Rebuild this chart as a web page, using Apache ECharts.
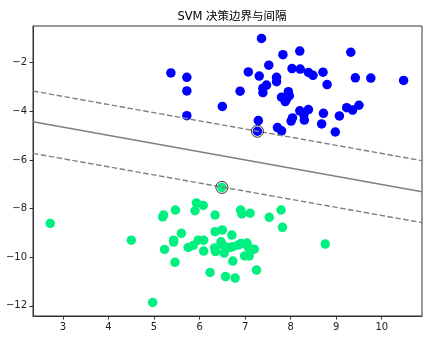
<!DOCTYPE html>
<html>
<head>
<meta charset="utf-8">
<script src="https://cdn.jsdelivr.net/npm/echarts@6/dist/echarts.min.js"></script>
<style>html,body{margin:0;padding:0;background:#fff}#c{width:442px;height:341px}</style>
</head>
<body>
<div id="c"></div>
<script>
const titleText = "SVM 决策边界与间隔";
const xTicks = [3, 4, 5, 6, 7, 8, 9, 10];
const yTicks = [-12, -10, -8, -6, -4, -2];
const xRange = [2.342, 10.884];
const yRange = [-12.42, -0.49];

const class0 = [
  [5.37,-2.42],[5.72,-2.60],[5.72,-3.16],[5.72,-4.18],[6.50,-3.80],[6.89,-3.17],
  [7.07,-2.38],[7.31,-2.55],[7.52,-2.10],[7.36,-1.00],[7.83,-1.67],[8.20,-1.52],
  [8.03,-2.24],[8.21,-2.26],[8.39,-2.40],[8.49,-2.52],[8.71,-2.39],[8.80,-2.90],
  [7.69,-2.60],[7.69,-2.78],[7.47,-2.92],[7.39,-3.05],[7.39,-3.23],[7.80,-3.42],
  [7.88,-3.60],[7.95,-3.19],[7.97,-3.36],[7.91,-3.50],[8.20,-3.98],[8.39,-3.93],
  [8.29,-4.15],[8.30,-4.36],[8.04,-4.27],[8.01,-4.40],[8.72,-4.08],[8.68,-4.52],
  [9.07,-4.19],[8.98,-4.85],[9.23,-3.85],[9.36,-3.95],[9.50,-3.75],[9.32,-1.57],
  [9.42,-2.62],[9.76,-2.63],[10.48,-2.73],[7.29,-4.38],[7.27,-4.82],[7.71,-4.67],
  [7.80,-4.80]
];
const class1 = [
  [2.72,-8.61],[4.50,-9.30],[4.97,-11.86],[5.19,-8.34],[5.21,-8.27],[5.47,-8.06],
  [5.23,-9.68],[5.43,-9.30],[5.43,-9.38],[5.46,-10.21],[5.60,-9.02],[5.75,-9.60],
  [5.86,-9.52],[5.93,-7.77],[6.08,-7.87],[5.90,-8.09],[5.97,-9.30],[6.09,-9.30],
  [6.09,-9.75],[6.23,-10.63],[6.34,-8.27],[6.34,-8.95],[6.50,-8.88],[6.71,-9.09],
  [6.33,-9.62],[6.35,-9.77],[6.47,-9.37],[6.52,-9.52],[6.54,-9.83],[6.67,-9.60],
  [6.73,-9.57],[6.85,-9.50],[6.91,-9.44],[7.04,-9.42],[7.07,-9.60],[7.20,-9.67],
  [6.99,-9.95],[7.09,-9.95],[6.73,-10.16],[7.25,-10.53],[6.57,-10.80],[6.78,-10.86],
  [6.90,-8.06],[6.93,-8.22],[7.11,-8.19],[7.53,-8.36],[7.79,-8.06],[7.82,-8.77],
  [8.76,-9.46],[6.49,-7.13]
];
const supportVectors = [[7.27,-4.82],[6.49,-7.13]];
const decisionLine = [[2.342,-4.43],[10.884,-7.31]];
const upperMargin = [[2.342,-3.165],[10.884,-6.03]];
const lowerMargin = [[2.342,-5.73],[10.884,-8.58]];

const fmt = v => String(v).replace('-', '\u2212');
const font = 'DejaVu Sans';
const chart = echarts.init(document.getElementById('c'));
chart.setOption({
  animation: false,
  backgroundColor: '#fff',
  title: {
    text: titleText, left: 227, top: 6, textAlign: 'center',
    textStyle: { fontFamily: "DejaVu Sans, 'Noto Sans CJK SC'", fontSize: 11.5, fontWeight: 'normal', color: '#000' }
  },
  grid: { left: 33, right: 20, top: 26, bottom: 25, show: true, borderColor: '#333', borderWidth: 1, backgroundColor: 'transparent' },
  xAxis: {
    type: 'value', min: xRange[0], max: xRange[1],
    splitLine: { show: false },
    axisLine: { show: true, lineStyle: { color: '#333', width: 1 } },
    axisTick: { show: true, length: 3.5, customValues: xTicks, lineStyle: { color: '#333' } },
    axisLabel: { customValues: xTicks, margin: 6, formatter: fmt, fontFamily: font, fontSize: 10, color: '#222' }
  },
  yAxis: {
    type: 'value', min: yRange[0], max: yRange[1],
    splitLine: { show: false },
    axisLine: { show: true, lineStyle: { color: '#333', width: 1 } },
    axisTick: { show: true, length: 3.5, customValues: yTicks, lineStyle: { color: '#333' } },
    axisLabel: { customValues: yTicks, margin: 6, formatter: fmt, fontFamily: font, fontSize: 10, color: '#222' }
  },
  series: [
    { type: 'scatter', data: class0, symbolSize: 9.5, itemStyle: { color: '#0000ff', opacity: 1 }, z: 2 },
    { type: 'scatter', data: class1, symbolSize: 9.5, itemStyle: { color: '#00f080', opacity: 1 }, z: 2 },
    { type: 'line', data: decisionLine, showSymbol: false, symbol: 'none', lineStyle: { color: '#808080', width: 1.4, type: 'solid' }, z: 3 },
    { type: 'line', data: upperMargin, showSymbol: false, symbol: 'none', lineStyle: { color: '#808080', width: 1.4, type: [5.5, 2.5] }, z: 3 },
    { type: 'line', data: lowerMargin, showSymbol: false, symbol: 'none', lineStyle: { color: '#808080', width: 1.4, type: [5.5, 2.5] }, z: 3 },
    { type: 'scatter', data: supportVectors, symbolSize: 12, itemStyle: { color: 'rgba(0,0,0,0)', borderColor: '#000', borderWidth: 1 }, z: 4 }
  ]
});
</script>
</body>
</html>
